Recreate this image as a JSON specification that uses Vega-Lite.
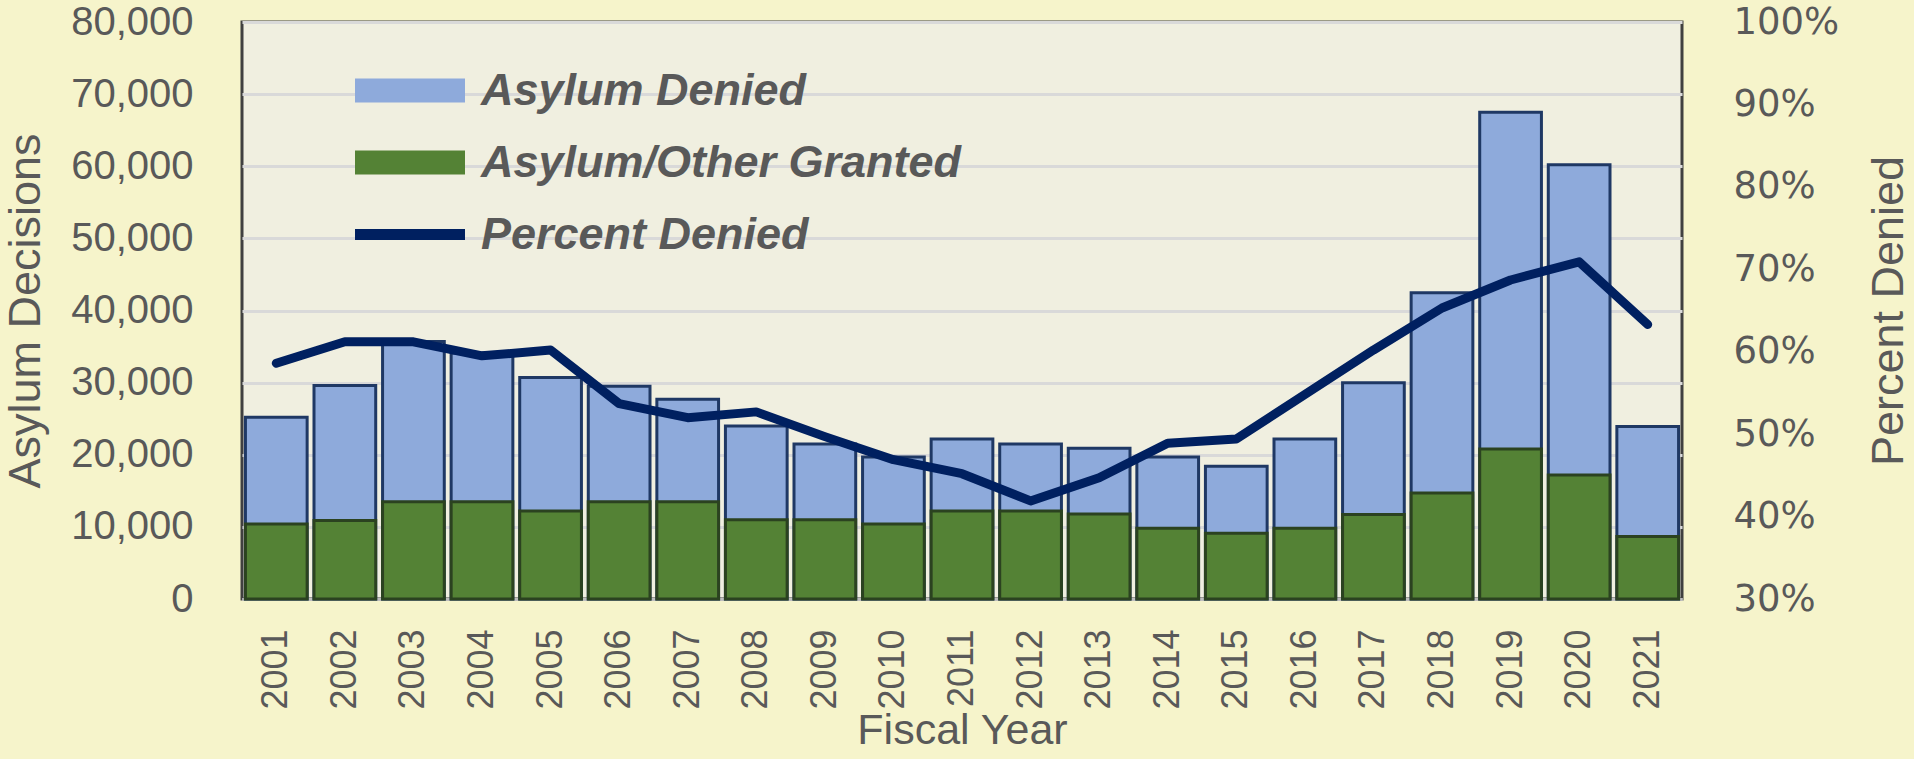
{
  "$schema": "https://vega.github.io/schema/vega-lite/v6.json",
  "width": 1440,
  "height": 577,
  "autosize": {"type": "none"},
  "padding": {"left": 242, "top": 22, "right": 232, "bottom": 160},
  "background": "#f6f4cb",
  "config": {
    "view": {"fill": "#f0efe0", "stroke": "#404040", "strokeWidth": 3},
    "font": "Liberation Sans",
    "axis": {"titleColor": "#595959", "labelColor": "#595959", "titleFontWeight": "normal", "titleFontSize": 45, "titleFont": "Liberation Sans"},
    "legend": {
      "title": null, "orient": "none", "legendX": 112, "legendY": 46, "padding": 0,
      "symbolSize": 1600, "labelFontSize": 45, "labelFont": "Liberation Sans", "labelFontStyle": "italic",
      "labelFontWeight": "bold", "labelColor": "#595959", "labelOffset": 82, "rowPadding": 26, "labelLimit": 1000,
      "symbolStrokeWidth": 3
    }
  },
  "data": {
    "values": [
      {"year": "2001", "total": 25200, "granted": 10400, "pct": 0.586},
      {"year": "2002", "total": 29600, "granted": 10900, "pct": 0.612},
      {"year": "2003", "total": 35700, "granted": 13500, "pct": 0.612},
      {"year": "2004", "total": 34100, "granted": 13500, "pct": 0.595},
      {"year": "2005", "total": 30700, "granted": 12200, "pct": 0.602},
      {"year": "2006", "total": 29500, "granted": 13500, "pct": 0.537},
      {"year": "2007", "total": 27700, "granted": 13500, "pct": 0.52},
      {"year": "2008", "total": 24000, "granted": 11000, "pct": 0.527},
      {"year": "2009", "total": 21500, "granted": 11000, "pct": 0.497},
      {"year": "2010", "total": 19700, "granted": 10400, "pct": 0.469},
      {"year": "2011", "total": 22200, "granted": 12200, "pct": 0.452},
      {"year": "2012", "total": 21500, "granted": 12200, "pct": 0.419},
      {"year": "2013", "total": 20900, "granted": 11800, "pct": 0.447},
      {"year": "2014", "total": 19700, "granted": 9800, "pct": 0.489},
      {"year": "2015", "total": 18400, "granted": 9100, "pct": 0.494},
      {"year": "2016", "total": 22200, "granted": 9800, "pct": 0.548},
      {"year": "2017", "total": 30000, "granted": 11700, "pct": 0.602},
      {"year": "2018", "total": 42450, "granted": 14700, "pct": 0.653},
      {"year": "2019", "total": 67500, "granted": 20800, "pct": 0.687},
      {"year": "2020", "total": 60200, "granted": 17200, "pct": 0.709},
      {"year": "2021", "total": 23900, "granted": 8650, "pct": 0.633}
    ]
  },
  "encoding": {
    "x": {
      "field": "year", "type": "ordinal",
      "scale": {"paddingInner": 0.1, "paddingOuter": 0.05},
      "axis": {
        "title": "Fiscal Year", "labelAngle": -90, "labelFontSize": 36, "labelFont": "Liberation Sans",
        "labelPadding": 30, "ticks": false, "tickSize": 0, "domainColor": "#bfbfbf", "domainWidth": 3,
        "titlePadding": 0, "titleFontSize": 43
      }
    }
  },
  "layer": [
    {
      "layer": [
        {
          "mark": {"type": "bar", "stroke": "#1f3864", "strokeWidth": 3},
          "encoding": {
            "y": {
              "field": "total", "type": "quantitative",
              "scale": {"domain": [0, 80000]},
              "axis": {
                "title": "Asylum Decisions", "orient": "left", "values": [0, 10000, 20000, 30000, 40000, 50000, 60000, 70000, 80000],
                "format": ",d", "labelFontSize": 40, "labelPadding": 49, "ticks": false, "tickSize": 0, "domain": false,
                "grid": true, "gridColor": "#d9d9d9", "gridWidth": 3, "titlePadding": 22
              }
            },
            "color": {
              "datum": "Asylum Denied",
              "scale": {"domain": ["Asylum Denied", "Asylum/Other Granted", "Percent Denied"], "range": ["#8eaadb", "#548235", "#002060"]}
            }
          }
        },
        {
          "mark": {"type": "bar", "stroke": "#2b4220", "strokeWidth": 3},
          "encoding": {
            "y": {"field": "granted", "type": "quantitative"},
            "color": {"datum": "Asylum/Other Granted"}
          }
        }
      ]
    },
    {
      "mark": {"type": "line", "strokeWidth": 9, "strokeJoin": "round", "strokeCap": "round"},
      "encoding": {
        "y": {
          "field": "pct", "type": "quantitative",
          "scale": {"domain": [0.3, 1]},
          "axis": {
            "title": "Percent Denied", "orient": "right", "format": ".0%", "values": [0.3, 0.4, 0.5, 0.6, 0.7, 0.8, 0.9, 1.0],
            "labelFont": "DejaVu Sans", "labelFontSize": 37, "labelPadding": 51, "ticks": false, "tickSize": 0, "domain": false,
            "grid": false, "titlePadding": 73, "titleAngle": 270
          }
        },
        "color": {
          "datum": "Percent Denied",
          "legend": {
            "encode": {
              "symbols": {
                "update": {
                  "shape": {"signal": "datum.value === 'Percent Denied' ? 'M-1,-0.2H4.35V0.2H-1Z' : 'M-1,-0.525H4.35V0.525H-1Z'"},
                  "fill": {"scale": "color", "field": "value"},
                  "stroke": {"signal": "datum.value === 'Asylum Denied' ? '#1f3864' : datum.value === 'Asylum/Other Granted' ? '#2b4220' : '#002060'"},
                  "strokeWidth": {"value": 3},
                  "opacity": {"value": 1},
                  "fillOpacity": {"value": 1},
                  "strokeOpacity": {"value": 1}
                }
              }
            }
          }
        }
      }
    }
  ],
  "resolve": {"scale": {"y": "independent"}}
}
